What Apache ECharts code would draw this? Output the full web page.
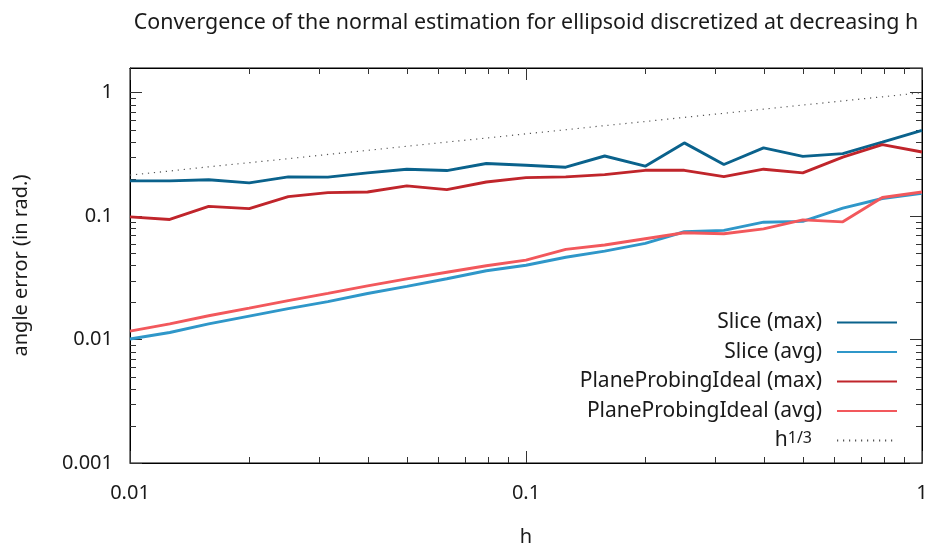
<!DOCTYPE html>
<html>
<head>
<meta charset="utf-8">
<script src="https://cdn.jsdelivr.net/npm/echarts@6/dist/echarts.min.js"></script>
<style>
  html, body { margin: 0; padding: 0; background: #fff; }
  #chart { width: 930px; height: 547px; }
</style>
</head>
<body>
<div id="chart"></div>
<script>
  // h values (log spaced, 10 per decade)
  const hValues = [0.01, 0.0126, 0.0158, 0.02, 0.0251, 0.0316, 0.0398, 0.05, 0.0631, 0.0794,
    0.1, 0.126, 0.158, 0.2, 0.251, 0.316, 0.398, 0.5, 0.631, 0.794, 1];
  const sliceMax = [0.193, 0.193, 0.197, 0.186, 0.208, 0.207, 0.224, 0.240, 0.234, 0.267,
    0.258, 0.249, 0.307, 0.254, 0.392, 0.262, 0.357, 0.305, 0.321, 0.397, 0.496];
  const sliceAvg = [0.0101, 0.0114, 0.0134, 0.0155, 0.0178, 0.0203, 0.0236, 0.0270, 0.0311, 0.0361,
    0.0400, 0.0464, 0.0521, 0.0601, 0.0747, 0.0766, 0.0893, 0.0906, 0.116, 0.139, 0.153];
  const ppiMax = [0.0987, 0.094, 0.120, 0.115, 0.144, 0.155, 0.157, 0.176, 0.164, 0.189,
    0.205, 0.208, 0.217, 0.235, 0.235, 0.209, 0.240, 0.224, 0.301, 0.380, 0.331];
  const ppiAvg = [0.0117, 0.0134, 0.0156, 0.0180, 0.0207, 0.0237, 0.0272, 0.0310, 0.0351, 0.0396,
    0.0440, 0.0538, 0.0583, 0.0656, 0.0733, 0.0719, 0.0789, 0.0933, 0.0899, 0.1416, 0.157];
  const hCubeRoot = [0.215, 0.232, 0.251, 0.271, 0.292, 0.316, 0.341, 0.368, 0.398, 0.429,
    0.464, 0.501, 0.541, 0.584, 0.631, 0.681, 0.736, 0.794, 0.858, 0.926, 1.0];
  const xMinorTicks = [0.02, 0.03, 0.04, 0.05, 0.06, 0.07, 0.08, 0.09,
    0.2, 0.3, 0.4, 0.5, 0.6, 0.7, 0.8, 0.9];
  const yMinorTicks = [0.002, 0.003, 0.004, 0.005, 0.006, 0.007, 0.008, 0.009,
    0.02, 0.03, 0.04, 0.05, 0.06, 0.07, 0.08, 0.09,
    0.2, 0.3, 0.4, 0.5, 0.6, 0.7, 0.8, 0.9];

  const X_MIN = 0.01, X_MAX = 1, Y_MIN = 0.001, Y_MAX = 1.585;
  const FONT = 'Noto Sans';
  const TXT = '#1a1a1a';

  function pairs(ys) {
    return hValues.map((h, i) => [h, ys[i]]);
  }

  function lineSeries(name, data, color, style) {
    return {
      name: name,
      type: 'line',
      data: pairs(data),
      symbol: 'none',
      lineStyle: Object.assign({ color: color, width: 2.9 }, style || {}),
      itemStyle: { color: color },
      emphasis: { disabled: true },
      z: 3
    };
  }

  function tickLine(x1, y1, x2, y2) {
    return { type: 'line', shape: { x1: x1, y1: y1, x2: x2, y2: y2 }, style: { stroke: '#333', lineWidth: 1 } };
  }

  let myChart = echarts.init(document.getElementById('chart'));
  myChart.setOption({
    animation: false,
    backgroundColor: '#fff',
    textStyle: { fontFamily: FONT },
    title: {
      text: 'Convergence of the normal estimation for ellipsoid discretized at decreasing h',
      left: 521,
      top: 7,
      textAlign: 'center',
      textStyle: { fontFamily: FONT, fontSize: 21.4, fontWeight: 'normal', color: TXT }
    },
    grid: {
      left: 130, right: 8, top: 68, bottom: 84,
      outerBoundsMode: 'none',
      containLabel: false,
      show: true, borderColor: '#000', borderWidth: 1
    },
    legend: {
      orient: 'vertical',
      align: 'right',
      right: 27,
      top: 307,
      itemWidth: 60,
      itemHeight: 18,
      itemGap: 8.5,
      itemStyle: { opacity: 0 },
      data: ['Slice (max)', 'Slice (avg)', 'PlaneProbingIdeal (max)', 'PlaneProbingIdeal (avg)', 'h^(1/3)'],
      formatter: function (name) {
        return name === 'h^(1/3)' ? 'h{sup|1/3}' : name;
      },
      textStyle: {
        fontFamily: FONT, fontSize: 21, lineHeight: 20, color: TXT, padding: [0, 10, 0, 0],
        rich: {
          sup: { fontFamily: FONT, fontSize: 16, lineHeight: 20, color: TXT, verticalAlign: 'top', padding: [0, 10, 4, 0] }
        }
      }
    },
    xAxis: [{
      type: 'log',
      logBase: 10,
      min: X_MIN,
      max: X_MAX,
      name: 'h',
      nameLocation: 'middle',
      nameGap: 64,
      nameTextStyle: { fontFamily: FONT, fontSize: 20, color: TXT },
      axisLine: { show: true, lineStyle: { color: '#000', width: 1 } },
      axisTick: { show: true, inside: true, length: 12, lineStyle: { color: '#333' } },
      axisLabel: { fontFamily: FONT, fontSize: 20, color: TXT, margin: 20 },
      splitLine: { show: false }
    }, {
      type: 'log',
      logBase: 10,
      position: 'top',
      min: X_MIN,
      max: X_MAX,
      axisLine: { show: true, lineStyle: { color: '#000', width: 1 } },
      axisTick: { show: true, inside: true, length: 12, lineStyle: { color: '#333' } },
      axisLabel: { show: false },
      splitLine: { show: false }
    }],
    yAxis: [{
      type: 'log',
      logBase: 10,
      min: Y_MIN,
      max: Y_MAX,
      name: 'angle error (in rad.)',
      nameLocation: 'middle',
      nameRotate: 90,
      nameGap: 99,
      nameTextStyle: { fontFamily: FONT, fontSize: 20, color: TXT },
      axisLine: { show: true, lineStyle: { color: '#000', width: 1 } },
      axisTick: { show: true, inside: true, length: 12, lineStyle: { color: '#333' } },
      axisLabel: { fontFamily: FONT, fontSize: 20, color: TXT, margin: 17, showMaxLabel: false },
      splitLine: { show: false }
    }, {
      type: 'log',
      logBase: 10,
      position: 'right',
      min: Y_MIN,
      max: Y_MAX,
      axisLine: { show: true, lineStyle: { color: '#000', width: 1 } },
      axisTick: { show: true, inside: true, length: 12, lineStyle: { color: '#333' } },
      axisLabel: { show: false },
      splitLine: { show: false }
    }],
    series: [
      lineSeries('Slice (max)', sliceMax, '#0a628c'),
      lineSeries('Slice (avg)', sliceAvg, '#2f97c9'),
      lineSeries('PlaneProbingIdeal (max)', ppiMax, '#c0252b'),
      lineSeries('PlaneProbingIdeal (avg)', ppiAvg, '#f2585c'),
      lineSeries('h^(1/3)', hCubeRoot, '#555', { width: 1.2, type: [1.2, 4.8], cap: 'butt' }),
      {
        // minor ticks on the y axis, left and right
        type: 'custom',
        silent: true,
        data: yMinorTicks.map(v => [X_MIN, v]),
        renderItem: function (params, api) {
          const v = api.value(1);
          const l = api.coord([X_MIN, v]);
          const r = api.coord([X_MAX, v]);
          const y = Math.round(l[1]) + 0.5;
          return { type: 'group', children: [
            tickLine(l[0], y, l[0] + 6, y),
            tickLine(r[0], y, r[0] - 6, y)
          ] };
        }
      },
      {
        // minor ticks on the x axis, bottom and top
        type: 'custom',
        silent: true,
        data: xMinorTicks.map(v => [v, Y_MIN]),
        renderItem: function (params, api) {
          const v = api.value(0);
          const b = api.coord([v, Y_MIN]);
          const t = api.coord([v, Y_MAX]);
          const x = Math.round(b[0]) + 0.5;
          return { type: 'group', children: [
            tickLine(x, b[1], x, b[1] - 6),
            tickLine(x, t[1], x, t[1] + 6)
          ] };
        }
      }
    ]
  });
</script>
</body>
</html>
